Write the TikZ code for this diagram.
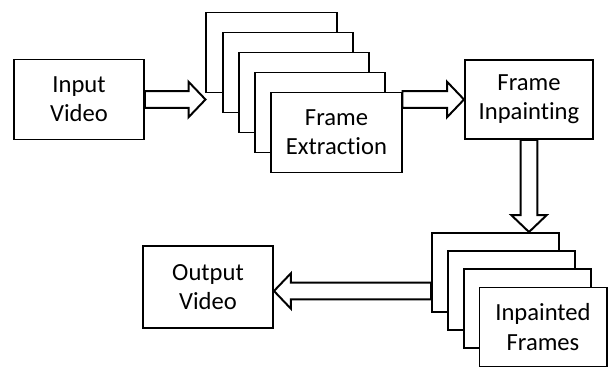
\documentclass[tikz,border=0pt]{standalone}
\usepackage{fontspec}
\setmainfont{Carlito}[Ligatures=NoCommon]
\usetikzlibrary{calc}

\newcommand{\fatarrow}[2]{%
  \draw [fat] ($(#1)!0.21cm!90:(#2)$)
    -- ($(#2)!0.42cm!(#1)!0.21cm!90:(#2)$)
    -- ($(#2)!0.42cm!(#1)!0.44cm!90:(#2)$)
    -- (#2)
    -- ($(#2)!0.42cm!(#1)!0.44cm!-90:(#2)$)
    -- ($(#2)!0.42cm!(#1)!0.21cm!-90:(#2)$)
    -- ($(#1)!0.21cm!-90:(#2)$) -- cycle;}

\begin{document}
\begin{tikzpicture}[x=0.025cm, y=-0.025cm,
    box/.style={draw, line width=1.4pt, fill=white, inner sep=0pt, align=center,
      minimum width=3.25cm, minimum height=2cm, font=\fontsize{17.5}{20.8}\selectfont},
    frame/.style={box, minimum width=3.175cm, minimum height=1.975cm},
    fat/.style={draw, line width=1.4pt, fill=white, line join=miter}]
        \useasboundingbox (0,0) rectangle (608,368);

        \node [box] (in) at (79,99.5) {Input\\Video};

        \foreach \i in {1,...,4}
          \node [box] (ex\i) at ({271.5+16.25*(\i-1)},{52.5+20*(\i-1)}) {};
        \node [box] (ex5) at (336.5,132.5) {Frame\\Extraction};

        \node [box, minimum width=3.2cm, minimum height=1.975cm] (inp) at (529,99.5) {Frame\\Inpainting};

        \foreach \i in {1,...,3}
          \node [frame] (fr\i) at ({495.5+15.833*(\i-1)},{272.5+18.167*(\i-1)}) {};
        \node [frame] (fr4) at (543,327) {Inpainted\\Frames};

        \node [box, minimum height=2.05cm] (out) at (208,287) {Output\\Video};

        \coordinate (a1) at (ex1.west |- in.east);
        \coordinate (a2) at (ex5.east |- inp.west);
        \coordinate (a3) at (inp.south |- fr1.north);
        \coordinate (a4e) at ($(out.east)+(0,4)$);
        \coordinate (a4s) at (fr1.west |- a4e);

        \fatarrow{in.east}{a1}
        \fatarrow{a2}{inp.west}
        \fatarrow{inp.south}{a3}
        \fatarrow{a4s}{a4e}
      \end{tikzpicture}
\end{document}
